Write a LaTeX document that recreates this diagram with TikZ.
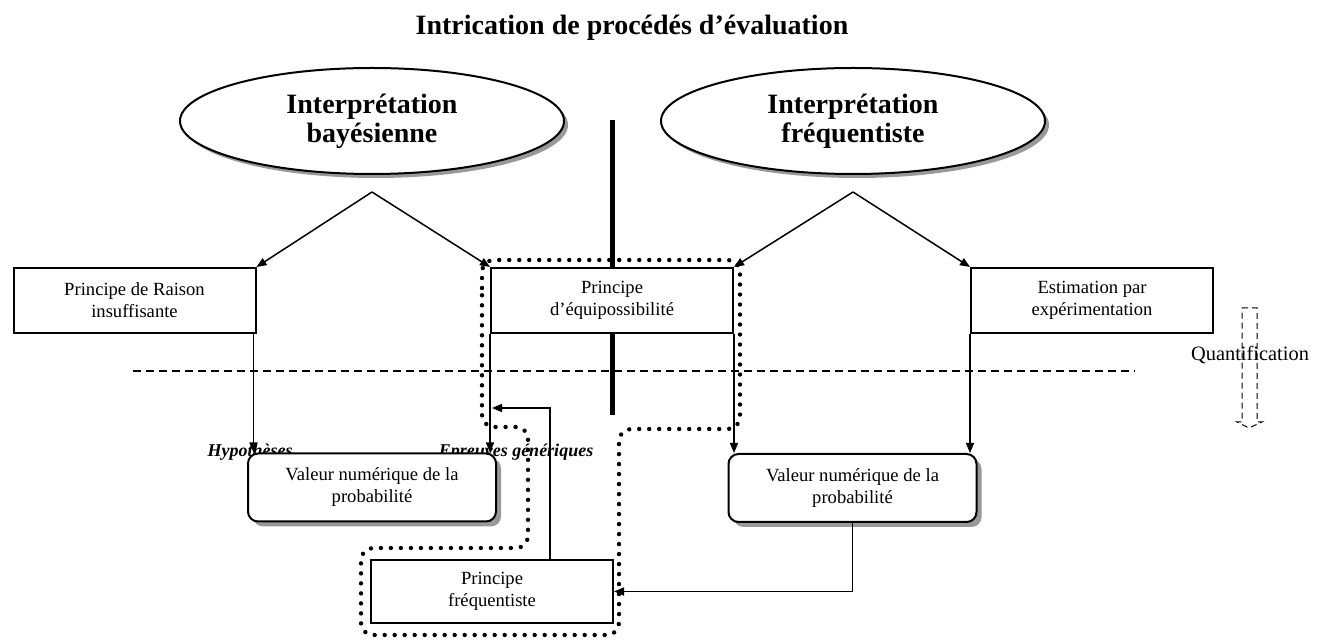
\documentclass[tikz,border=0pt]{standalone}
\usepackage{fontspec}
\setmainfont{Liberation Serif}
\usetikzlibrary{shapes}
\usetikzlibrary{shadows}
\usetikzlibrary{positioning}
\usetikzlibrary{arrows.meta}
\tikzset{
    interp/.style = {ellipse, line width=1pt, draw=black, fill=white, align=center, minimum width=192pt, minimum height=53pt, inner sep=0pt, font=\fontsize{14}{14.5}\selectfont\bfseries, general shadow={fill=gray!80, shadow xshift=2pt, shadow yshift=-2pt}},
    cadre/.style = {rectangle, line width=1pt, draw=black, fill=white, align=center, minimum width=121pt, minimum height=32.5pt, inner sep=0pt, font=\fontsize{9.3}{11}\selectfont},
    cadrev/.style = {cadre, rounded corners=5pt, minimum width=124pt, minimum height=34pt, general shadow={fill=gray!80, shadow xshift=2.5pt, shadow yshift=-2.5pt}},
    etiq/.style = {anchor=base, inner sep=0pt, font=\fontsize{9}{11}\selectfont\bfseries\itshape},
    edgen/.style = {-{Triangle[length=5pt,width=4pt]}, line width=0.75pt},
    edgep/.style = {line width=2.2pt, dash pattern=on 0pt off 5pt, line cap=round, rounded corners=6pt}, % regroupement
    edged/.style = {line width=0.6pt, dash pattern=on 4pt off 2.5pt}, % quantification
}

\begin{document}
\begin{tikzpicture}[x=0.5pt, y=-0.5pt]
\useasboundingbox (0,0) rectangle (1327,640);
%
\node[font=\fontsize{14}{16}\selectfont\bfseries] (titre) at (632,28) {Intrication de procédés d’évaluation};
%
\draw[line width=2.5pt] (612,120) -- (612,415);
\draw[edged] (133,371) -- (1135,371);
%
\node[interp] (eb) at (372,121) {Interprétation\\bayésienne};
\node[interp] (ef) at (853,121) {Interprétation\\fréquentiste};
\coordinate (sb) at (372,192);
\coordinate (sf) at (853,192);
%
\node[cadre] (pr) at (134.5,300.5) {Principe de Raison\\insuffisante};
\node[cadre] (pe) at (612,300.5) {Principe\\d’équipossibilité};
\node[cadre] (est) at (1092,300.5) {Estimation par\\expérimentation};
%
\node[etiq] (hyp) at (250,457) {Hypothèses};
\node[etiq] (epr) at (516,457) {Epreuves génériques};
%
\node[cadrev] (vl) at (372,487.5) {Valeur numérique de la\\probabilité};
\node[cadrev] (vr) at (852.5,488) {Valeur numérique de la\\probabilité};
\node[cadre, minimum height=31.5pt] (pf) at (492,591.5) {Principe\\fréquentiste};
\coordinate (retour) at (492,408);
%
\node[inner sep=0pt, font=\fontsize{10.2}{12}\selectfont] (quant) at (1250,355) {Quantification};
\draw[line width=0.5pt, dash pattern=on 3pt off 2pt] (1242,308) -- (1257,308) -- (1257,422) -- (1262,422) -- (1249,428) -- (1237,422) -- (1242,422) -- cycle;
%
\draw[edgen] (sb) -- (pr.north east);
\draw[edgen] (sb) -- (pe.north west);
\draw[edgen] (sf) -- (pe.north east);
\draw[edgen] (sf) -- (est.north west);
\draw[edgen] ([xshift=-1.5pt]pr.south east) -- ([xshift=-1.5pt]pr.south east |- vl.north);
\draw[edgen] (pe.south west) -- (pe.south west |- vl.north);
\draw[edgen] (pe.south east) -- (pe.south east |- vr.north);
\draw[edgen] (est.south west) -- (est.south west |- vr.north);
\draw[edgen] (vr.south) |- (pf.east);
\draw[edgen] ([xshift=29pt]pf.north) |- (retour);
%
\draw[edgep] (482,300) -- (482,260) -- (740,260) -- (740,429) -- (619,429) -- (619,635) -- (361,635) -- (361,548) -- (528,548) -- (528,427) -- (482,427) -- cycle;

\end{tikzpicture}
\end{document}
